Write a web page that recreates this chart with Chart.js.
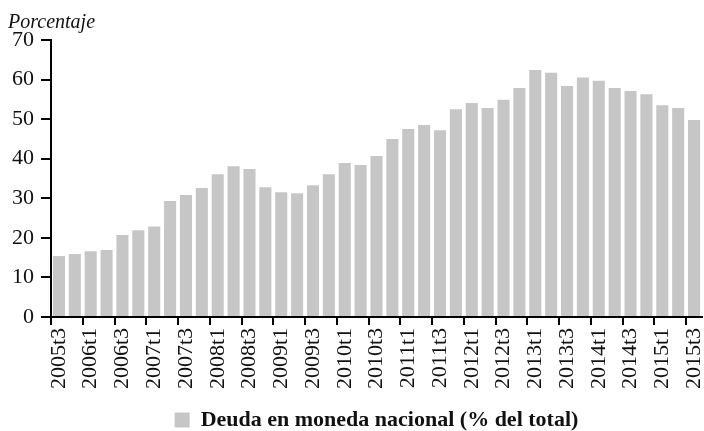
<!DOCTYPE html>
<html>
<head>
<meta charset="utf-8">
<script src="https://cdn.jsdelivr.net/npm/chart.js@4/dist/chart.umd.min.js"></script>
<style>
  html, body { margin: 0; padding: 0; background: #fff; }
  #wrap { width: 704px; height: 431px; }
</style>
</head>
<body>
<div id="wrap"><canvas id="c" width="704" height="431"></canvas></div>
<script>
// Quarterly periods, 2005t3 to 2015t3
const quarters = [
  '2005t3','2005t4','2006t1','2006t2','2006t3','2006t4','2007t1','2007t2',
  '2007t3','2007t4','2008t1','2008t2','2008t3','2008t4','2009t1','2009t2',
  '2009t3','2009t4','2010t1','2010t2','2010t3','2010t4','2011t1','2011t2',
  '2011t3','2011t4','2012t1','2012t2','2012t3','2012t4','2013t1','2013t2',
  '2013t3','2013t4','2014t1','2014t2','2014t3','2014t4','2015t1','2015t2',
  '2015t3'
];

// Share of debt in national currency (% of total)
const deudaNacional = [
  15.4, 15.9, 16.6, 16.9, 20.7, 21.9, 22.9, 29.3,
  30.8, 32.6, 36.1, 38.1, 37.4, 32.8, 31.5, 31.3,
  33.3, 36.1, 38.9, 38.4, 40.7, 45.0, 47.5, 48.5,
  47.2, 52.5, 54.1, 52.8, 54.9, 57.9, 62.4, 61.7,
  58.4, 60.5, 59.7, 57.9, 57.1, 56.3, 53.5, 52.8,
  49.8
];

const yTicks = [0, 10, 20, 30, 40, 50, 60, 70];

const serif = "'Liberation Serif', 'DejaVu Serif', serif";
const ink = '#111';

new Chart(document.getElementById('c'), {
  type: 'bar',
  data: {
    labels: quarters,
    datasets: [{
      label: 'Deuda en moneda nacional (% del total)',
      data: deudaNacional,
      backgroundColor: '#c6c6c6',
      borderWidth: 0,
      barPercentage: 0.76,
      categoryPercentage: 1.0
    }]
  },
  options: {
    responsive: false,
    animation: false,
    events: [],
    layout: { padding: { left: 8, right: 2, top: 11, bottom: -10 } },
    plugins: {
      tooltip: { enabled: false },
      title: {
        display: true,
        text: 'Porcentaje',
        align: 'start',
        color: ink,
        font: { family: serif, size: 20, style: 'italic', weight: 'normal' },
        padding: { top: 0, bottom: 5 }
      },
      legend: {
        position: 'bottom',
        fullSize: false,
        labels: {
          color: ink,
          boxWidth: 15,
          boxHeight: 15,
          padding: 2,
          font: { family: serif, size: 22, weight: 'bold', lineHeight: 1 }
        }
      }
    },
    scales: {
      x: {
        offset: true,
        grid: {
          offset: true,
          drawOnChartArea: false,
          drawTicks: true,
          tickLength: 8,
          lineWidth: 2,
          tickColor: (ctx) => (ctx.index !== undefined && ctx.index % 2 === 0) ? '#000' : 'rgba(0,0,0,0)'
        },
        border: { display: true, color: '#000', width: 2 },
        ticks: {
          autoSkip: false,
          maxRotation: 90,
          minRotation: 90,
          padding: 3,
          color: ink,
          font: { family: serif, size: 22 },
          callback: (value, index) => index % 2 === 0 ? quarters[index] : ''
        },
        afterFit: (scale) => {
          scale.height = 90;
          scale.paddingLeft = 0;
          scale.paddingRight = 0;
        }
      },
      y: {
        min: 0,
        max: 70,
        afterBuildTicks: (scale) => { scale.ticks = yTicks.map(v => ({ value: v })); },
        grid: {
          drawOnChartArea: false,
          drawTicks: true,
          tickLength: 10,
          lineWidth: 2,
          tickColor: '#000'
        },
        border: { display: true, color: '#000', width: 2 },
        ticks: {
          padding: 7,
          color: ink,
          font: { family: serif, size: 22 }
        },
        afterFit: (scale) => { scale.width = 43; }
      }
    }
  }
});
</script>
</body>
</html>
